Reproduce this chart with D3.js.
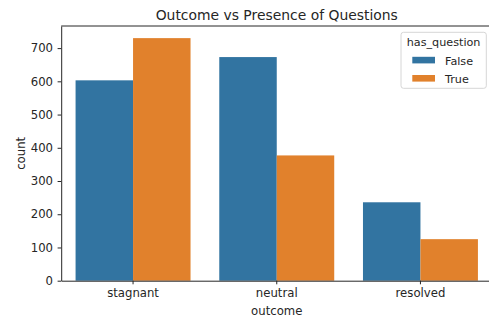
<!DOCTYPE html>
<html lang="en">
<head>
<meta charset="utf-8">
<title>Outcome vs Presence of Questions</title>
<script src="https://d3js.org/d3.v7.min.js"></script>
<style>
  body { margin: 0; background: #fff; }
  svg { display: block; }
  svg text { font-family: "DejaVu Sans", sans-serif; fill: #262626; }
  .tick text { font-size: 11.7px; }
  .tick line, .domain { stroke: #262626; }
</style>
</head>
<body>
<div id="chart"></div>
<script>
const outcomes = ["stagnant", "neutral", "resolved"];
const groups = ["False", "True"];
const countFalse = [603, 673, 236];
const countTrue = [730, 377, 125];
const yTicks = [0, 100, 200, 300, 400, 500, 600, 700];

const width = 489, height = 318;
const margin = {top: 26, right: -3.3, bottom: 37.3, left: 61.2};
const colors = ["#3274a1", "#e1812c"];

const svg = d3.select("#chart").append("svg")
  .attr("width", width).attr("height", height);

const rows = outcomes.map((o, i) => ({outcome: o, values: [countFalse[i], countTrue[i]]}));

const x = d3.scaleBand()
  .domain(outcomes)
  .range([margin.left, width - margin.right])
  .paddingInner(0.2).paddingOuter(0.1);

const xIn = d3.scaleBand().domain(groups).range([0, x.bandwidth()]);

const y = d3.scaleLinear()
  .domain([0, d3.max(countTrue.concat(countFalse)) * 1.05])
  .range([height - margin.bottom, margin.top]);

// bars
svg.append("g").selectAll("g")
  .data(rows).enter().append("g")
  .attr("transform", d => "translate(" + x(d.outcome) + ",0)")
  .selectAll("rect")
  .data(d => d.values.map((v, k) => ({g: groups[k], v: v, k: k})))
  .enter().append("rect")
    .attr("x", d => xIn(d.g))
    .attr("width", xIn.bandwidth())
    .attr("y", d => y(d.v))
    .attr("height", d => y(0) - y(d.v))
    .attr("fill", d => colors[d.k]);

// axes
svg.append("g")
  .attr("transform", "translate(" + margin.left + ",0)")
  .call(d3.axisLeft(y).tickValues(yTicks).tickSize(3.6).tickPadding(4.6).tickSizeOuter(0))
  .attr("font-family", null).attr("font-size", null);

svg.append("g")
  .attr("transform", "translate(0," + (height - margin.bottom) + ")")
  .call(d3.axisBottom(x).tickSize(3.6).tickPadding(4.6).tickSizeOuter(0))
  .attr("font-family", null).attr("font-size", null);

// top spine
svg.append("line")
  .attr("x1", margin.left).attr("x2", width)
  .attr("y1", margin.top).attr("y2", margin.top)
  .attr("stroke", "#262626");

// title
svg.append("text")
  .attr("x", (margin.left + width - margin.right) / 2)
  .attr("y", 19.5)
  .attr("text-anchor", "middle")
  .attr("font-size", "13.9px")
  .text("Outcome vs Presence of Questions");

// axis labels
svg.append("text")
  .attr("x", (margin.left + width - margin.right) / 2)
  .attr("y", 314.8)
  .attr("text-anchor", "middle")
  .attr("font-size", "11.7px")
  .text("outcome");

svg.append("text")
  .attr("transform", "translate(25," + ((margin.top + height - margin.bottom) / 2) + ") rotate(-90)")
  .attr("text-anchor", "middle")
  .attr("font-size", "11.7px")
  .text("count");

// legend
const lg = svg.append("g").attr("transform", "translate(401,32.3)");
lg.append("rect")
  .attr("width", 85.3).attr("height", 56).attr("rx", 2.5)
  .attr("fill", "#fff").attr("fill-opacity", 0.8)
  .attr("stroke", "#d6d6d6");
lg.append("text")
  .attr("x", 42.6).attr("y", 14.2)
  .attr("text-anchor", "middle")
  .attr("font-size", "11.2px")
  .text("has_question");
groups.forEach((g, k) => {
  lg.append("rect")
    .attr("x", 11.3).attr("y", 24.5 + k * 18.2)
    .attr("width", 22.7).attr("height", 6.6)
    .attr("fill", colors[k]);
  lg.append("text")
    .attr("x", 44).attr("y", 32.4 + k * 18.2)
    .attr("font-size", "11.2px")
    .text(g);
});
</script>
</body>
</html>
